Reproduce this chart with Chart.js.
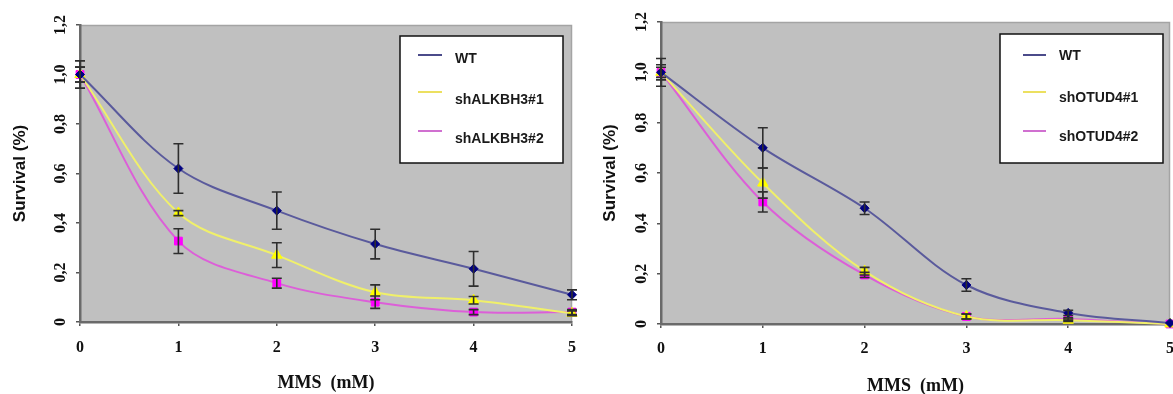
<!DOCTYPE html>
<html><head><meta charset="utf-8">
<script src="https://cdn.jsdelivr.net/npm/chart.js@4.4.1/dist/chart.umd.min.js"></script>
<style>
html,body{margin:0;padding:0;background:#fff;overflow:hidden;width:1173px;height:394px;position:relative;}
#c1{position:absolute;left:0;top:0;}
#c2{position:absolute;left:590px;top:0;}
</style></head><body>
<canvas id="c1" width="590" height="394"></canvas>
<canvas id="c2" width="600" height="394"></canvas>
<script>
// ---- data ----
const doses = [0, 1, 2, 3, 4, 5];
const yTickValues = [0, 0.2, 0.4, 0.6, 0.8, 1.0, 1.2];
const yTickLabels = ['0', '0,2', '0,4', '0,6', '0,8', '1,0', '1,2'];
const xTitle = 'MMS  (mM)';
const yTitle = 'Survival (%)';

// left panel
const namesA = ['WT', 'shALKBH3#1', 'shALKBH3#2'];
const wtA   = [1.0, 0.62, 0.45, 0.315, 0.215, 0.11];
const wtAErr  = [0.055, 0.10, 0.075, 0.06, 0.07, 0.02];
const sh1A  = [1.0, 0.44, 0.27, 0.12, 0.088, 0.035];
const sh1AErr = [0.03, 0.01, 0.05, 0.03, 0.015, 0.01];
const sh2A  = [1.0, 0.327, 0.157, 0.08, 0.04, 0.04];
const sh2AErr = [0.03, 0.05, 0.02, 0.025, 0.01, 0.01];

// right panel
const namesB = ['WT', 'shOTUD4#1', 'shOTUD4#2'];
const wtB   = [1.0, 0.70, 0.46, 0.155, 0.044, 0.004];
const wtBErr  = [0.055, 0.08, 0.025, 0.025, 0.01, 0];
const sh1B  = [1.0, 0.56, 0.21, 0.03, 0.015, 0.0];
const sh1BErr = [0.03, 0.06, 0.015, 0.01, 0.005, 0];
const sh2B  = [1.0, 0.485, 0.195, 0.03, 0.02, 0.0];
const sh2BErr = [0.02, 0.04, 0.01, 0.01, 0.005, 0];

// ---- styles ----
const lineColors = ['#5a5a9c', '#f0f06a', '#dc5fd8'];
const markColors = ['#000080', '#ffff00', '#ff00ff'];
const legendColors = ['#4b4b8a', '#ece060', '#d070d0'];
const markShapes = ['rectRot', 'triangle', 'rect'];
const markRadius = [4.5, 6, 5.5];
const serif = "'Liberation Serif', 'Times New Roman', serif";
const sans = "'Liberation Sans', Arial, sans-serif";

const deco = {
  id: 'deco',
  beforeDraw(chart, args, o) {
    const {ctx, chartArea: a} = chart;
    ctx.save();
    ctx.fillStyle = '#c0c0c0';
    ctx.fillRect(a.left, a.top, a.right - a.left, a.bottom - a.top);
    ctx.strokeStyle = '#a4a4a4';
    ctx.lineWidth = 1.5;
    ctx.beginPath();
    ctx.moveTo(a.left, a.top + 0.5); ctx.lineTo(a.right - 0.5, a.top + 0.5); ctx.lineTo(a.right - 0.5, a.bottom);
    ctx.stroke();
    ctx.restore();
  },
  afterDatasetsDraw(chart, args, o) {
    const {ctx} = chart;
    const xs = chart.scales.x, ys = chart.scales.y;
    ctx.save();
    ctx.strokeStyle = '#2e2e2e';
    ctx.lineWidth = 1.6;
    o.errors.forEach((errs, i) => {
      const vals = chart.data.datasets[i].data;
      errs.forEach((e, j) => {
        if (!e) return;
        const x = xs.getPixelForValue(vals[j].x);
        const y1 = ys.getPixelForValue(vals[j].y + e);
        const y2 = ys.getPixelForValue(vals[j].y - e);
        ctx.beginPath();
        ctx.moveTo(x, y1); ctx.lineTo(x, y2);
        ctx.moveTo(x - 5, y1); ctx.lineTo(x + 5, y1);
        ctx.moveTo(x - 5, y2); ctx.lineTo(x + 5, y2);
        ctx.stroke();
      });
    });
    ctx.restore();
  },
  afterDraw(chart, args, o) {
    const {ctx} = chart;
    const ys = chart.scales.y;
    ctx.save();
    // rotated y tick labels
    ctx.fillStyle = '#111';
    ctx.font = 'bold 16px ' + serif;
    ctx.textAlign = 'center';
    ctx.textBaseline = 'middle';
    yTickValues.forEach((v, i) => {
      const y = ys.getPixelForValue(v);
      ctx.save();
      ctx.translate(o.yLabelX, y);
      ctx.rotate(-Math.PI / 2);
      ctx.fillText(yTickLabels[i], 0, 0);
      ctx.restore();
    });
    // legend box
    const L = o.legend;
    ctx.fillStyle = '#ffffff';
    ctx.fillRect(L.x, L.y, L.w, L.h);
    ctx.strokeStyle = '#111';
    ctx.lineWidth = 1.5;
    ctx.strokeRect(L.x, L.y, L.w, L.h);
    ctx.font = 'bold 14px ' + sans;
    ctx.textAlign = 'left';
    ctx.textBaseline = 'middle';
    chart.data.datasets.forEach((ds, i) => {
      ctx.strokeStyle = legendColors[i];
      ctx.lineWidth = 2;
      ctx.beginPath();
      ctx.moveTo(L.x + L.lineX1, L.y + L.lineYs[i]);
      ctx.lineTo(L.x + L.lineX2, L.y + L.lineYs[i]);
      ctx.stroke();
      ctx.fillStyle = '#1a1a1a';
      ctx.fillText(ds.label, L.x + L.textX, L.y + L.textYs[i]);
    });
    ctx.restore();
  }
};

function makeChart(id, names, series, errs, geo) {
  const datasets = series.map((s, i) => ({
    label: names[i],
    data: doses.map((d, j) => ({x: d, y: s[j]})),
    borderColor: lineColors[i],
    borderWidth: 2,
    backgroundColor: markColors[i],
    pointBackgroundColor: markColors[i],
    pointBorderColor: markColors[i],
    pointBorderWidth: 1,
    pointStyle: markShapes[i],
    pointRadius: markRadius[i],
    tension: 0.34,
    clip: false
  }));
  return new Chart(document.getElementById(id), {
    type: 'line',
    data: {datasets: datasets},
    options: {
      responsive: false,
      animation: false,
      devicePixelRatio: 1,
      layout: {padding: geo.padding},
      plugins: {
        legend: {display: false},
        tooltip: {enabled: false},
        deco: {errors: errs, yLabelX: geo.yLabelX, legend: geo.legend}
      },
      scales: {
        x: {
          type: 'linear', min: 0, max: 5,
          afterFit: s => { s.height = geo.xHeight; },
          ticks: {stepSize: 1, color: '#111', padding: geo.xTickPad,
                  font: {family: serif, weight: 'bold', size: 16}},
          grid: {display: true, drawOnChartArea: false, drawTicks: true, tickLength: 4, color: '#555', lineWidth: 1.5},
          border: {display: true, color: '#6a6a6a', width: 2.5},
          title: {display: true, text: xTitle, color: '#111',
                  font: {family: serif, weight: 'bold', size: 18},
                  padding: {top: 0, bottom: geo.xTitlePad}}
        },
        y: {
          type: 'linear', min: 0, max: 1.2,
          afterFit: s => { s.width = geo.yWidth; },
          ticks: {stepSize: 0.2, display: false},
          grid: {display: true, drawOnChartArea: false, drawTicks: true, tickLength: 4, color: '#555', lineWidth: 1.5},
          border: {display: true, color: '#6a6a6a', width: 2.5},
          title: {display: true, text: yTitle, color: '#111',
                  font: {family: sans, weight: 'bold', size: 17},
                  padding: {top: geo.yTitlePad, bottom: 0}}
        }
      }
    },
    plugins: [deco]
  });
}

makeChart('c1', namesA, [wtA, sh1A, sh2A], [wtAErr, sh1AErr, sh2AErr], {
  padding: {left: 0, top: 25, right: 18, bottom: 0},
  yWidth: 80, xHeight: 72, xTickPad: 12, xTitlePad: 0, yTitlePad: 10, yLabelX: 61,
  legend: {x: 400, y: 36, w: 163, h: 127, lineX1: 18, lineX2: 42, lineYs: [19, 56, 95], textX: 55, textYs: [23, 64, 103]}
});
makeChart('c2', namesB, [wtB, sh1B, sh2B], [wtBErr, sh1BErr, sh2BErr], {
  padding: {left: 0, top: 22, right: 20, bottom: 0},
  yWidth: 71, xHeight: 70, xTickPad: 11, xTitlePad: -3, yTitlePad: 10, yLabelX: 52,
  legend: {x: 410, y: 34, w: 163, h: 129, lineX1: 23, lineX2: 46, lineYs: [21, 58, 97], textX: 59, textYs: [22, 64, 103]}
});
</script>
</body></html>
